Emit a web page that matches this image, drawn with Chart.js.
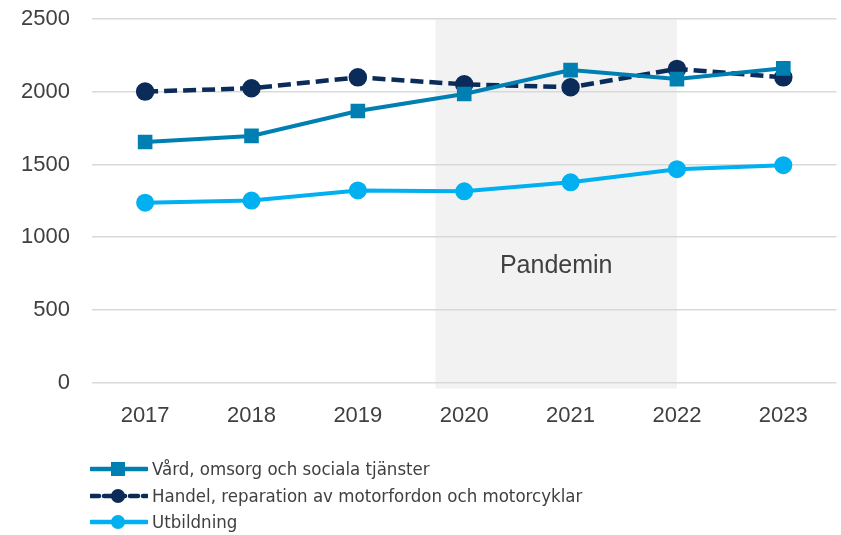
<!DOCTYPE html>
<html>
<head>
<meta charset="utf-8">
<script src="https://cdn.jsdelivr.net/npm/chart.js@4.4.0/dist/chart.umd.min.js"></script>
<style>
  html, body { margin: 0; padding: 0; background: #fff; }
  #wrap { position: relative; width: 841px; height: 535px; overflow: hidden; }
  #myChart { position: absolute; left: 0; top: -16px; }
  #legend {
    position: absolute; left: 90px; top: 456px;
    font-family: "Liberation Sans Narrow", "DejaVu Sans Condensed", sans-serif;
    font-size: 18.5px; color: #404040; line-height: 26.5px;
  }
  .item { display: flex; align-items: center; white-space: nowrap; }
  .item svg { margin-right: 4px; }
</style>
</head>
<body>
<div id="wrap">
  <canvas id="myChart" width="848" height="535"></canvas>
  <div id="legend"></div>
</div>
<script>
// data
const years = ['2017', '2018', '2019', '2020', '2021', '2022', '2023'];
const vard = [1655, 1697, 1868, 1985, 2150, 2088, 2162];
const handel = [2002, 2025, 2100, 2052, 2032, 2158, 2100];
const utbildning = [1238, 1252, 1322, 1316, 1378, 1468, 1496];
const yTicks = [0, 500, 1000, 1500, 2000, 2500];
const pandemiLabel = 'Pandemin';
const pandemiFrom = '2020';
const pandemiTo = '2022';
const pandemiTextValue = 800;

const seriesNames = [
  'Vård, omsorg och sociala tjänster',
  'Handel, reparation av motorfordon och motorcyklar',
  'Utbildning'
];
const colors = ['#0080B2', '#0B2B59', '#00B0F0'];

// skuggat fält for pandemin, under rutnätet
function pandemiBounds(chart) {
  const x = chart.scales.x;
  const step = x.getPixelForValue(1) - x.getPixelForValue(0);
  const left = x.getPixelForValue(years.indexOf(pandemiFrom)) - step * 0.27;
  const right = x.getPixelForValue(years.indexOf(pandemiTo));
  return { left, right };
}

const pandemiPlugin = {
  id: 'pandemi',
  beforeDraw(chart) {
    const { ctx, chartArea, scales } = chart;
    const { left, right } = pandemiBounds(chart);
    const top = scales.y.getPixelForValue(2500);
    ctx.save();
    ctx.fillStyle = '#F2F2F2';
    ctx.fillRect(left, top, right - left, chartArea.bottom + 6 - top);
    ctx.restore();
  },
  afterDatasetsDraw(chart) {
    const { ctx, scales } = chart;
    const { left, right } = pandemiBounds(chart);
    ctx.save();
    ctx.font = '25px "Liberation Sans", sans-serif';
    ctx.fillStyle = '#404040';
    ctx.textAlign = 'center';
    ctx.textBaseline = 'middle';
    ctx.fillText(pandemiLabel, (left + right) / 2, scales.y.getPixelForValue(pandemiTextValue));
    ctx.restore();
  }
};

const data = {
  labels: years,
  datasets: [
    {
      label: seriesNames[0],
      data: vard,
      borderColor: colors[0],
      backgroundColor: colors[0],
      borderWidth: 4,
      pointStyle: 'rect',
      pointRadius: 7.5,
      pointHoverRadius: 7.5,
    },
    {
      label: seriesNames[1],
      data: handel,
      borderColor: colors[1],
      backgroundColor: colors[1],
      borderWidth: 4.5,
      borderDash: [13, 6],
      pointStyle: 'circle',
      pointRadius: 7,
      pointHoverRadius: 7,
    },
    {
      label: seriesNames[2],
      data: utbildning,
      borderColor: colors[2],
      backgroundColor: colors[2],
      borderWidth: 4,
      pointStyle: 'circle',
      pointRadius: 7,
      pointHoverRadius: 7,
    },
  ]
};

const config = {
  type: 'line',
  data,
  options: {
    responsive: false,
    animation: false,
    layout: { padding: { left: -1, right: -2, top: -7, bottom: 78 } },
    plugins: {
      legend: { display: false },
      tooltip: { enabled: false },
    },
    scales: {
      x: {
        offset: true,
        grid: { display: false },
        border: { display: false },
        ticks: {
          color: '#404040',
          font: { family: '"Liberation Sans", sans-serif', size: 22 },
          padding: 12,
        },
      },
      y: {
        min: 0,
        max: 2500,
        afterBuildTicks(axis) { axis.ticks = yTicks.map(v => ({ value: v })); },
        grid: { color: '#D9D9D9', lineWidth: 1.5, drawTicks: false },
        border: { display: false },
        ticks: {
          color: '#404040',
          font: { family: '"Liberation Sans", sans-serif', size: 22 },
          padding: 22,
          callback: v => String(v),
        },
      },
    },
  },
  plugins: [pandemiPlugin]
};

new Chart(document.getElementById('myChart'), config);

// legend med linje + markör
const legend = document.getElementById('legend');
data.datasets.forEach(ds => {
  const row = document.createElement('div');
  row.className = 'item';
  const dash = ds.borderDash ? 'stroke-dasharray="8 5"' : '';
  const marker = ds.pointStyle === 'rect'
    ? `<rect x="21" y="6" width="14" height="14" fill="${ds.borderColor}"/>`
    : `<circle cx="28" cy="13" r="7" fill="${ds.borderColor}"/>`;
  row.innerHTML = `<svg width="58" height="26"><line x1="1" y1="13" x2="57" y2="13" stroke="${ds.borderColor}" stroke-width="4.5" stroke-linecap="round" ${dash}/>${marker}</svg><span>${ds.label}</span>`;
  legend.appendChild(row);
});
</script>
</body>
</html>
